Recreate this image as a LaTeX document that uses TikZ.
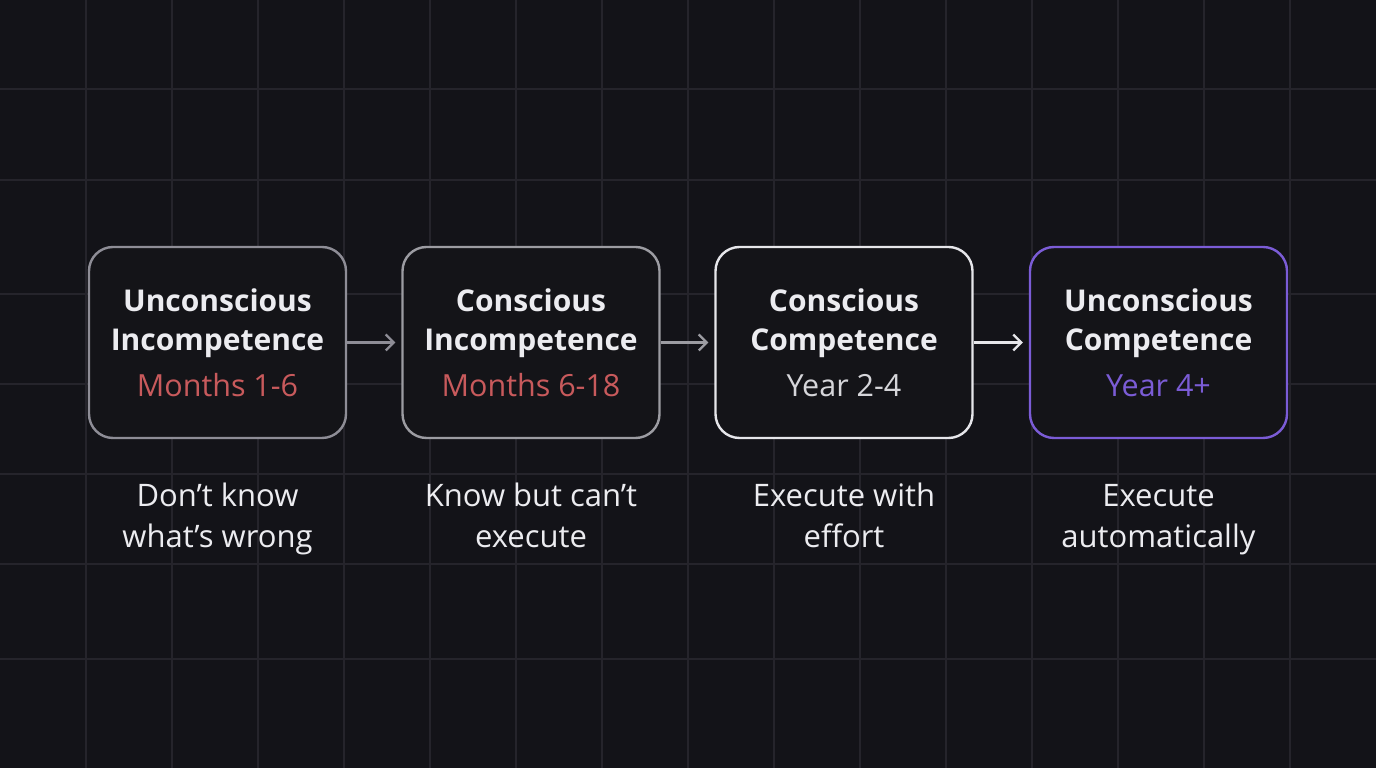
\documentclass[tikz,border=0pt]{standalone}
\usepackage{fontspec}
\setmainfont{Open Sans}
\usetikzlibrary{arrows.meta}
\definecolor{bgc}{HTML}{131318}
\definecolor{gridc}{HTML}{25242B}
\definecolor{boxfill}{HTML}{141418}
\definecolor{titlec}{HTML}{ECECF0}
\definecolor{bordA}{HTML}{8E8D96}
\definecolor{bordB}{HTML}{9C9CA2}
\definecolor{bordC}{HTML}{E6E6EA}
\definecolor{purp}{HTML}{7B5CD6}
\definecolor{redc}{HTML}{C85A5C}
\definecolor{lightc}{HTML}{D6D6DA}
\tikzset{
  x=1pt,y=1pt,
  stage/.style={draw, line width=2.4pt, rounded corners=24pt, fill=boxfill,
    minimum width=257pt, minimum height=191pt, inner sep=0pt},
  ttl/.style={anchor=base, text=titlec, font=\fontsize{30}{34}\selectfont\bfseries, inner sep=0pt},
  sub/.style={anchor=base, font=\fontsize{30.5}{34}\selectfont, inner sep=0pt},
  note/.style={anchor=base, text=titlec, font=\fontsize{31}{34}\selectfont, inner sep=0pt},
  conn/.style={line width=2.2pt, -{Straight Barb[length=8pt,width=16pt,line width=2.2pt]}, shorten >=6pt},
}
\begin{document}
\begin{tikzpicture}
\fill[bgc] (0,0) rectangle (1376,768);
\useasboundingbox (0,0) rectangle (1376,768);
% grid
\foreach \gx in {86,172,258,344,430,516,602,688,774,860,946,1032,1118,1204,1290}
  \draw[gridc, line width=1.3pt] (\gx,0) -- (\gx,768);
\foreach \gy in {89,180,294,384,474,564,659}
  \draw[gridc, line width=1.3pt] (0,768-\gy) -- (1376,768-\gy);
% boxes
\node[stage, draw=bordA] (b1) at (217.5,425.5) {};
\node[stage, draw=bordB] (b2) at (531,425.5) {};
\node[stage, draw=bordC] (b3) at (844,425.5) {};
\node[stage, draw=purp]  (b4) at (1158.5,425.5) {};
% connectors
\draw[conn, bordA] (b1.east) -- (b2.west);
\draw[conn, bordB] (b2.east) -- (b3.west);
\draw[conn, bordC] (b3.east) -- (b4.west);
% texts box 1
\node[ttl] (t1a) at (217.5,768-312) {Unconscious};
\node[ttl] (t1b) at (217.5,768-351) {Incompetence};
\node[sub, text=redc] (s1) at (217.5,768-397) {Months 1-6};
% box 2
\node[ttl] (t2a) at (531,768-312) {Conscious};
\node[ttl] (t2b) at (531,768-351) {Incompetence};
\node[sub, text=redc] (s2) at (531,768-397) {Months 6-18};
% box 3
\node[ttl] (t3a) at (844,768-312) {Conscious};
\node[ttl] (t3b) at (844,768-351) {Competence};
\node[sub, text=lightc] (s3) at (844,768-397) {Year 2-4};
% box 4
\node[ttl] (t4a) at (1158.5,768-312) {Unconscious};
\node[ttl] (t4b) at (1158.5,768-351) {Competence};
\node[sub, text=purp] (s4) at (1158.5,768-397) {Year 4+};
% notes
\node[note] (n1a) at (217.5,768-507) {Don’t know};
\node[note] (n1b) at (217.5,768-548) {what’s wrong};
\node[note] (n2a) at (531,768-507) {Know but can’t};
\node[note] (n2b) at (531,768-548) {execute};
\node[note] (n3a) at (844,768-507) {Execute with};
\node[note] (n3b) at (844,768-548) {effort};
\node[note] (n4a) at (1158.5,768-507) {Execute};
\node[note] (n4b) at (1158.5,768-548) {automatically};
\end{tikzpicture}
\end{document}
